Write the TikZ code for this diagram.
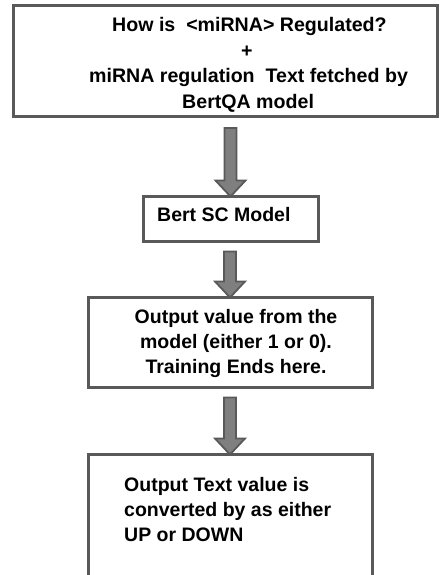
\documentclass[tikz,border=0pt]{standalone}
\usepackage{fontspec}
\setmainfont{Liberation Sans}
\usetikzlibrary{calc}
\definecolor{edgegray}{HTML}{595959}
\definecolor{shaftgray}{HTML}{7F7F7F}
\begin{document}
\begin{tikzpicture}[x=1pt,y=-1pt,
  box/.style={draw=edgegray, line width=3pt, inner sep=0pt, fill=white},
  txt/.style={font=\fontsize{19.5}{25}\selectfont\bfseries, inner sep=0pt},
  toptxt/.style={font=\fontsize{19.6}{25.5}\selectfont\bfseries, inner sep=0pt},
  blockarrow/.style={draw=edgegray, fill=shaftgray, line width=1.8pt, line join=miter}]
\useasboundingbox (0,0) rectangle (439,575);
\clip (0,0) rectangle (439,575);
\fill[white] (0,0) rectangle (439,575);
% boxes
\node[box, minimum width=424pt, minimum height=111pt] (b1) at (225,61.5) {};
\node[box, minimum width=175pt, minimum height=45pt] (b2) at (230.5,218.5) {};
\node[box, minimum width=284pt, minimum height=90pt] (b3) at (230,342) {};
\node[box, minimum width=284pt, minimum height=146pt] (b4) at (230,527) {};
% texts (base anchor = baseline of the last line)
\node[toptxt, anchor=base west, align=left] (t1) at (89,108.5)
  {\hspace*{23pt}How is\ \ <miRNA> Regulated?\\
   \hspace*{152pt}+\\
   miRNA regulation\ \ Text fetched by\\
   \hspace*{93pt}BertQA model};
\node[txt, anchor=base west] (t2) at (157,221.7) {Bert SC Model};
\node[txt, anchor=base, align=center] (t3) at (236,373)
  {Output value from the\\ model (either 1 or 0).\\ Training Ends here.};
\node[txt, anchor=base west, align=left] (t4) at (124,541)
  {Output Text value is\\ converted by as either\\ UP or DOWN};
% block arrows
\draw[blockarrow] let \p1=($(b1.south)+(0,9.5)$), \p2=($(b2.north)+(0,2)$) in
  (\x2-6pt,\y1) -- (\x2+6pt,\y1) -- (\x2+6pt,\y2+16pt) -- (\x2+15pt,\y2+16pt)
  -- (\x2,\y2) -- (\x2-15pt,\y2+16pt) -- (\x2-6pt,\y2+16pt) -- cycle;
\draw[blockarrow] let \p1=($(b2.south)+(0,9)$), \p2=($(b3.north)+(0,2)$) in
  (\x2-6pt,\y1) -- (\x2+6pt,\y1) -- (\x2+6pt,\y2+16pt) -- (\x2+15pt,\y2+16pt)
  -- (\x2,\y2) -- (\x2-15pt,\y2+16pt) -- (\x2-6pt,\y2+16pt) -- cycle;
\draw[blockarrow] let \p1=($(b3.south)+(0,9)$), \p2=($(b4.north)+(0,2)$) in
  (\x2-6pt,\y1) -- (\x2+6pt,\y1) -- (\x2+6pt,\y2+16pt) -- (\x2+15pt,\y2+16pt)
  -- (\x2,\y2) -- (\x2-15pt,\y2+16pt) -- (\x2-6pt,\y2+16pt) -- cycle;
\end{tikzpicture}
\end{document}
